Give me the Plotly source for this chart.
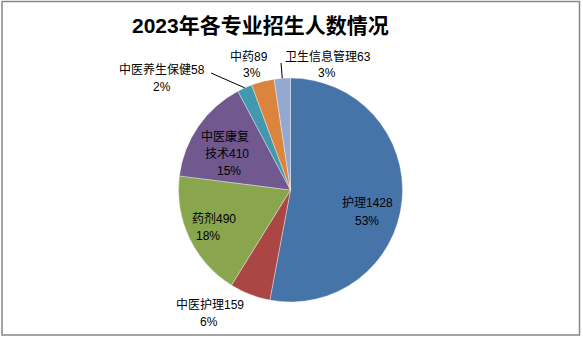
import math
import plotly.graph_objects as go

# ---- data ----
categories = ["护理", "中医护理", "药剂", "中医康复技术", "中医养生保健", "中药", "卫生信息管理"]
values = [1428, 159, 490, 410, 58, 89, 63]
title_text = "2023年各专业招生人数情况"

# ---- style ----
colors = ["#4674A9", "#AA4643", "#89A54E", "#71588F", "#4198AF", "#DB843D", "#93A9CF"]
W, H = 583, 339
CX, CY, R = 290.5, 190.0, 112.0
FONT = "Liberation Sans, Noto Sans CJK SC, sans-serif"

# label line layout (pixel centers for each text line), per category
label_lines = {
    "护理": [("{c}{v}", 367, 203), ("{p}", 367, 221)],
    "中医护理": [("{c}{v}", 210, 304), ("{p}", 209, 322)],
    "药剂": [("{c}{v}", 214, 218), ("{p}", 208, 236)],
    "中医康复技术": [("中医康复", 225, 136), ("技术{v}", 227, 154), ("{p}", 229, 171)],
    "中医养生保健": [("{c}{v}", 162, 69), ("{p}", 162, 87)],
    "中药": [("{c}{v}", 249, 56), ("{p}", 252, 73)],
    "卫生信息管理": [("{c}{v}", 328, 56), ("{p}", 327, 73)],
}
# leader line end points (pixel) for labels that have them
leader_ends = {"中医养生保健": (211, 73), "卫生信息管理": (281, 63)}


def px(x):
    return x / W


def py(y):
    return 1 - y / H


def whole_percents(vals):
    """Largest-remainder rounding so the percentages add up to 100 (as Excel shows)."""
    tot = sum(vals)
    raw = [100 * v / tot for v in vals]
    fl = [int(math.floor(r)) for r in raw]
    left = 100 - sum(fl)
    order = sorted(range(len(vals)), key=lambda i: raw[i] - fl[i], reverse=True)
    for i in order[:left]:
        fl[i] += 1
    return fl


fig = go.Figure()
fig.add_trace(go.Pie(
    labels=categories,
    values=values,
    sort=False,
    direction="clockwise",
    rotation=0,
    marker=dict(colors=colors, line=dict(color="rgba(255,255,255,0.6)", width=0.6)),
    textinfo="none",
    hoverinfo="label+value+percent",
    showlegend=False,
    domain=dict(x=[px(CX - R), px(CX + R)], y=[py(CY + R), py(CY - R)]),
))

total = sum(values)
pcts = whole_percents(values)
annotations = [dict(
    text="<b>" + title_text + "</b>", x=px(260), y=py(26), xref="paper", yref="paper",
    showarrow=False, xanchor="center", yanchor="middle",
    font=dict(family=FONT, size=21, color="#000000"),
)]
shapes = []
cum = 0
for c, v, pct in zip(categories, values, pcts):
    for tmpl, lx, ly in label_lines[c]:
        annotations.append(dict(
            text=tmpl.format(c=c, v=v, p=f"{pct}%"), x=px(lx), y=py(ly),
            xref="paper", yref="paper", showarrow=False,
            xanchor="center", yanchor="middle",
            font=dict(family=FONT, size=12, color="#000000"),
        ))
    mid = (cum + v / 2) / total * 2 * math.pi
    if c in leader_ends:
        sx = CX + R * math.sin(mid)
        sy = CY - R * math.cos(mid)
        ex, ey = leader_ends[c]
        shapes.append(dict(type="line", xref="paper", yref="paper",
                           x0=px(sx), y0=py(sy), x1=px(ex), y1=py(ey),
                           line=dict(color="#000000", width=1)))
    cum += v

# chart border
shapes.append(dict(type="rect", xref="paper", yref="paper",
                   x0=px(2), y0=py(335), x1=px(579.5), y1=py(1.5),
                   line=dict(color="#878787", width=1.5)))

fig.update_layout(
    width=W, height=H,
    margin=dict(l=0, r=0, t=0, b=0),
    paper_bgcolor="#FFFFFF",
    plot_bgcolor="#FFFFFF",
    annotations=annotations,
    shapes=shapes,
)
fig.write_html("out.html")
